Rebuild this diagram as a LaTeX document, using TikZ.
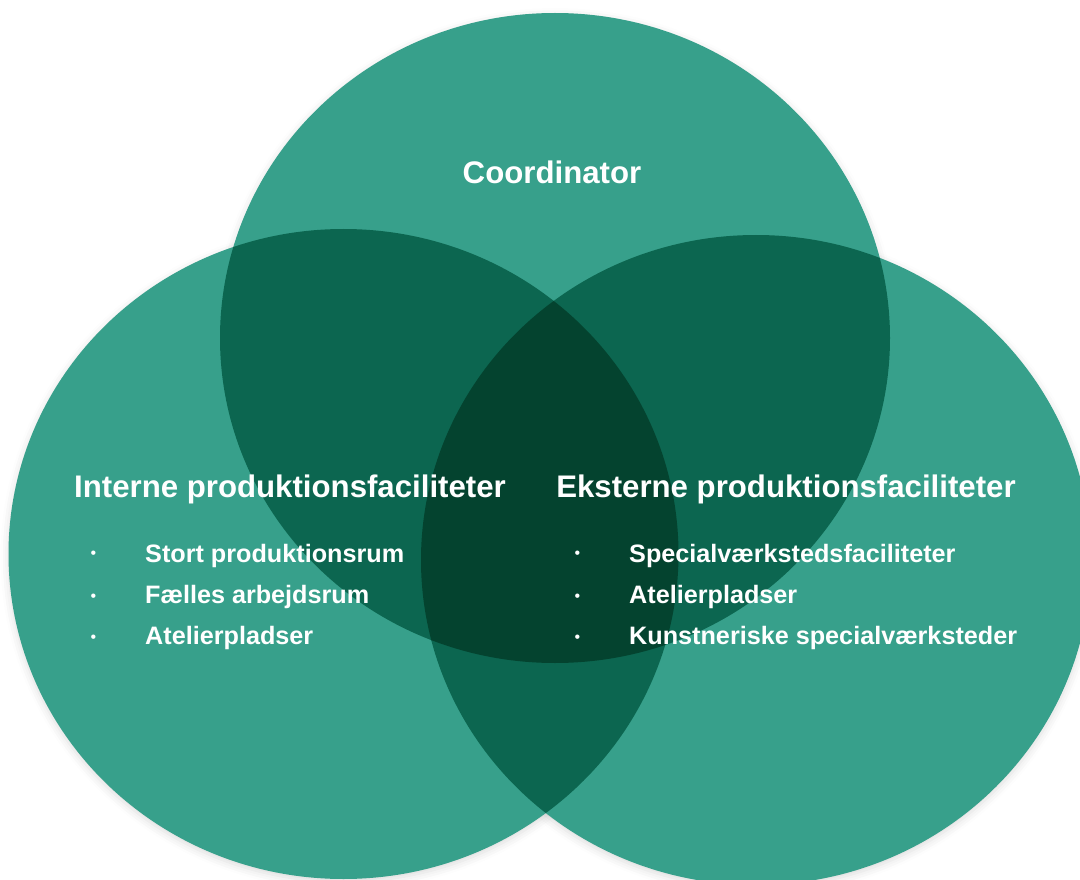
\documentclass[tikz,border=0pt]{standalone}
\usepackage{fontspec}
\setmainfont{Liberation Sans}
\usetikzlibrary{shadows.blur}
\definecolor{vennlys}{HTML}{37A08B}
\definecolor{venmork}{HTML}{0C6650}
\definecolor{vennmorkest}{HTML}{04432F}
\begin{document}
\begin{tikzpicture}[x=1pt,y=-1pt,
	skygge/.style={blur shadow={shadow xshift=0pt,shadow yshift=-3pt,shadow blur radius=8pt,shadow opacity=14}},
	overskrift/.style={text=white,inner sep=0pt,anchor=base,font=\fontsize{31.2}{36}\selectfont\bfseries},
	punkt/.style={text=white,inner sep=0pt,anchor=base west,font=\fontsize{25.2}{28}\selectfont\bfseries},
	prik/.style={text=white,inner sep=0pt,anchor=base,font=\fontsize{16}{18}\selectfont}]
				
				\useasboundingbox (0,0) rectangle (1080,880);
				
				\coordinate (koord) at (555,338);
				\coordinate (intern) at (343.5,554);
				\coordinate (ekstern) at (756,560);
				
				% Skygger
				\path[skygge] (koord) ellipse (335 and 325);
				\path[skygge] (intern) ellipse (335 and 325);
				\path[skygge] (ekstern) ellipse (335 and 325);
				
				% Cirklerne
				\fill[vennlys] (koord) ellipse (335 and 325);
				\fill[vennlys] (intern) ellipse (335 and 325);
				\fill[vennlys] (ekstern) ellipse (335 and 325);
				
				% Overlap mellem to cirkler
				\begin{scope}
					\clip (koord) ellipse (335 and 325);
					\fill[venmork] (intern) ellipse (335 and 325);
					\fill[venmork] (ekstern) ellipse (335 and 325);
				\end{scope}
				\begin{scope}
					\clip (intern) ellipse (335 and 325);
					\fill[venmork] (ekstern) ellipse (335 and 325);
				\end{scope}
				
				% Overlap mellem alle tre
				\begin{scope}
					\clip (koord) ellipse (335 and 325);
					\clip (intern) ellipse (335 and 325);
					\fill[vennmorkest] (ekstern) ellipse (335 and 325);
				\end{scope}
				
				% Overskrifter
				\node[overskrift] (tkoord) at (552,184) {Coordinator};
				\node[overskrift] (tintern) at (290,497) {Interne produktionsfaciliteter};
				\node[overskrift] (tekstern) at (786,497) {Eksterne produktionsfaciliteter};
				
				% Punkter
				\node[prik] (pi1) at (93.5,558.5) {•};
				\node[prik] (pi2) at (93.5,601) {•};
				\node[prik] (pi3) at (93.5,642.5) {•};
				\node[punkt] (i1) at (145,562) {Stort produktionsrum};
				\node[punkt] (i2) at (145,603) {Fælles arbejdsrum};
				\node[punkt] (i3) at (145,644) {Atelierpladser};
				
				\node[prik] (pe1) at (577.5,558.5) {•};
				\node[prik] (pe2) at (577.5,601) {•};
				\node[prik] (pe3) at (577.5,642.5) {•};
				\node[punkt] (e1) at (629,562) {Specialværkstedsfaciliteter};
				\node[punkt] (e2) at (629,603) {Atelierpladser};
				\node[punkt] (e3) at (629,644) {Kunstneriske specialværksteder};
				
			\end{tikzpicture}
\end{document}
